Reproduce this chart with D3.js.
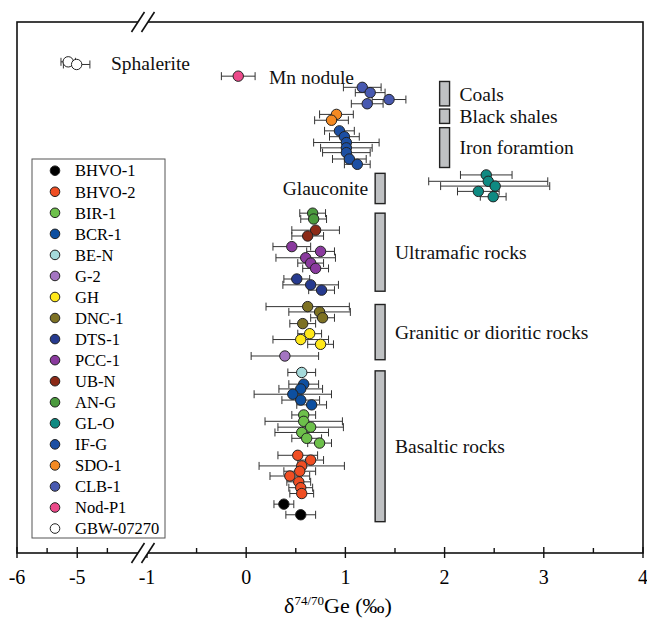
<!DOCTYPE html>
<html>
<head>
<meta charset="utf-8">
<script src="https://cdn.jsdelivr.net/npm/d3@7"></script>
<style>
  body { margin: 0; background: #fff; }
  svg text { font-family: "Liberation Serif", "Times New Roman", Times, serif; }
  .err { stroke: #333; stroke-width: 1; fill: none; }
  .dot { stroke: #222; stroke-width: 1; }
  .range-bar { fill: #bfc1c3; stroke: #222; stroke-width: 1.4; }
  .note { font-size: 19.5px; fill: #111; }
</style>
</head>
<body>
<script>
'use strict';

// samples, legend order
var sampleNames = ['BHVO-1', 'BHVO-2', 'BIR-1', 'BCR-1', 'BE-N', 'G-2', 'GH',
    'DNC-1', 'DTS-1', 'PCC-1', 'UB-N', 'AN-G', 'GL-O', 'IF-G', 'SDO-1',
    'CLB-1', 'Nod-P1', 'GBW-07270'];
var sampleColors = ['#000000', '#f04e23', '#6dc04b', '#0d4fa0', '#a5dadb',
    '#a475c2', '#ffe81a', '#7d7123', '#263a8f', '#8a3a9e', '#8c2a17',
    '#4b9b3e', '#0f8a82', '#1c4fa3', '#f48a23', '#4859b0', '#ec4a8a', '#ffffff'];

// [delta74/70Ge, error, vertical position]
var bhvo1 = [[0.38, 0.10, 9.2], [0.55, 0.15, 7.2]];
var bhvo2 = [[0.52, 0.20, 18.4], [0.65, 0.13, 17.5], [0.56, 0.43, 16.4],
    [0.54, 0.16, 15.4], [0.44, 0.20, 14.5], [0.53, 0.12, 13.4],
    [0.55, 0.12, 12.3], [0.56, 0.12, 11.2]];
var bir1 = [[0.58, 0.12, 26.0], [0.58, 0.39, 24.8], [0.65, 0.33, 23.7],
    [0.56, 0.27, 22.7], [0.61, 0.15, 21.6], [0.74, 0.12, 20.7]];
var bcr1 = [[0.58, 0.15, 31.8], [0.55, 0.22, 30.9], [0.47, 0.39, 29.9],
    [0.55, 0.19, 28.8], [0.66, 0.15, 27.9]];
var beN = [[0.56, 0.14, 34.0]];
var g2 = [[0.39, 0.34, 37.1]];
var gh = [[0.64, 0.12, 41.3], [0.55, 0.28, 40.2], [0.75, 0.13, 39.3]];
var dnc1 = [[0.62, 0.42, 46.4], [0.74, 0.31, 45.4], [0.77, 0.12, 44.3],
    [0.57, 0.13, 43.2]];
var dts1 = [[0.51, 0.13, 51.6], [0.65, 0.28, 50.5], [0.76, 0.13, 49.5]];
var pcc1 = [[0.46, 0.19, 57.7], [0.75, 0.14, 56.8], [0.60, 0.30, 55.6],
    [0.65, 0.13, 54.6], [0.70, 0.13, 53.6]];
var ubN = [[0.70, 0.24, 60.8], [0.62, 0.16, 59.7]];
var anG = [[0.67, 0.13, 64.0], [0.68, 0.13, 62.9]];
var glO = [[2.42, 0.26, 71.2], [2.44, 0.60, 70.0], [2.51, 0.55, 69.1],
    [2.34, 0.21, 68.1], [2.49, 0.13, 67.1]];
var ifG = [[0.94, 0.15, 79.5], [0.99, 0.15, 78.4], [1.01, 0.33, 77.3],
    [1.01, 0.26, 76.3], [1.01, 0.24, 75.4], [1.04, 0.17, 74.2],
    [1.12, 0.13, 73.2]];
var sdo1 = [[0.91, 0.17, 82.6], [0.86, 0.17, 81.5]];
var clb1 = [[1.17, 0.19, 87.7], [1.25, 0.15, 86.7], [1.44, 0.17, 85.4],
    [1.22, 0.16, 84.6]];
var nodP1 = [[-0.08, 0.17, 89.8]];
var gbw07270 = [[-5.15, 0.12, 92.5], [-5.01, 0.22, 92.0]];

// rock type ranges: name, x centre, [bottom, top] position
var rangeNames = ['Coals', 'Black shales', 'Iron foramtion', 'Glauconite',
    'Ultramafic rocks', 'Granitic or dioritic rocks', 'Basaltic rocks'];
var rangeX = [2.0, 2.0, 2.0, 1.35, 1.35, 1.35, 1.35];
var rangeSpans = [[84.2, 88.8], [80.9, 83.6], [72.6, 80.1], [65.8, 71.5],
    [49.3, 64.0], [36.4, 46.8], [5.9, 34.3]];

// x axis ticks
var majorTicks = [-6, -5, -1, 0, 1, 2, 3, 4];
var minorTicks = [-5.5, -4.5, -0.5, 0.5, 1.5, 2.5, 3.5];


var WIDTH = 647,
    HEIGHT = 619,
    LEFT = 17,
    RIGHT = 643,
    TOP = 22,
    BOTTOM = 553;

var samples = [bhvo1, bhvo2, bir1, bcr1, beN, g2, gh, dnc1, dts1, pcc1, ubN,
    anG, glO, ifG, sdo1, clb1, nodP1, gbw07270].map(function (pts, i) {
  return {name: sampleNames[i], color: sampleColors[i], points: pts};
});

var svg = d3.select('body').append('svg')
    .attr('width', WIDTH)
    .attr('height', HEIGHT)
    .attr('font-family', '"Liberation Serif", "Times New Roman", serif');

// broken axis: -6..-3.95 on a compressed scale, -1..4 on the main one
var x = d3.scaleLinear()
    .domain([-6, -3.95, -1.03, 4])
    .range([LEFT, 140.5, 144, RIGHT]);
var y = d3.scaleLinear()
    .domain([0, 100])
    .range([BOTTOM, TOP]);

// frame
svg.append('rect')
    .attr('x', LEFT)
    .attr('y', TOP)
    .attr('width', RIGHT - LEFT)
    .attr('height', BOTTOM - TOP)
    .attr('fill', 'none')
    .attr('stroke', '#111')
    .attr('stroke-width', 1.6);

// ticks
var tickG = svg.append('g');
tickG.selectAll('line.major')
    .data(majorTicks)
    .enter().append('line')
    .attr('x1', function (d) { return x(d); })
    .attr('x2', function (d) { return x(d); })
    .attr('y1', BOTTOM - 6)
    .attr('y2', BOTTOM + 5)
    .attr('stroke', '#111')
    .attr('stroke-width', 1.4);
tickG.selectAll('line.minor')
    .data(minorTicks)
    .enter().append('line')
    .attr('x1', function (d) { return x(d); })
    .attr('x2', function (d) { return x(d); })
    .attr('y1', BOTTOM - 5)
    .attr('y2', BOTTOM)
    .attr('stroke', '#111')
    .attr('stroke-width', 1.4);
tickG.selectAll('text')
    .data(majorTicks)
    .enter().append('text')
    .attr('x', function (d) { return x(d); })
    .attr('y', BOTTOM + 31)
    .attr('text-anchor', 'middle')
    .attr('font-size', 20)
    .text(function (d) { return d; });

// axis title
var title = svg.append('text')
    .attr('x', 338)
    .attr('y', 613)
    .attr('text-anchor', 'middle')
    .attr('font-size', 22);
title.append('tspan').text('\u03b4');
title.append('tspan').attr('dy', -8).attr('font-size', 13).text('74/70');
title.append('tspan').attr('dy', 8).text('Ge (\u2030)');

// break marks on top and bottom
var breakX = x(-1) - 4;
[TOP, BOTTOM].forEach(function (by) {
  svg.append('polygon')
      .attr('points', [
        [breakX - 11, by + 9], [breakX + 1.5, by - 9],
        [breakX + 11, by - 9], [breakX - 1.5, by + 9]
      ].map(function (p) { return p.join(','); }).join(' '))
      .attr('fill', '#fff');
  [-5, 5].forEach(function (off) {
    svg.append('line')
        .attr('x1', breakX + off - 6.5)
        .attr('y1', by + 10)
        .attr('x2', breakX + off + 6.5)
        .attr('y2', by - 10)
        .attr('stroke', '#111')
        .attr('stroke-width', 1.6);
  });
});

// rock type range bars
var ranges = rangeNames.map(function (n, i) {
  return {name: n, x: rangeX[i], span: rangeSpans[i]};
});
svg.append('g').selectAll('rect')
    .data(ranges)
    .enter().append('rect')
    .attr('class', 'range-bar')
    .attr('x', function (d) { return x(d.x - 0.05); })
    .attr('width', function (d) { return x(d.x + 0.05) - x(d.x - 0.05); })
    .attr('y', function (d) { return y(d.span[1]); })
    .attr('height', function (d) { return y(d.span[0]) - y(d.span[1]); });
svg.append('g').selectAll('text')
    .data(ranges)
    .enter().append('text')
    .attr('class', 'note')
    .attr('x', function (d) {
      return d.name === 'Glauconite' ? x(d.x - 0.12) : x(d.x + 0.15);
    })
    .attr('y', function (d) { return y((d.span[0] + d.span[1]) / 2); })
    .attr('dy', '0.35em')
    .attr('text-anchor', function (d) {
      return d.name === 'Glauconite' ? 'end' : 'start';
    })
    .text(function (d) { return d.name; });

// sample labels
svg.append('text').attr('class', 'note')
    .attr('x', x(-4.44)).attr('y', y(92.3)).attr('dy', '0.35em')
    .text('Sphalerite');
svg.append('text').attr('class', 'note')
    .attr('x', x(0.23)).attr('y', y(89.6)).attr('dy', '0.35em')
    .text('Mn nodule');

// error bars, then dots
var points = [];
samples.forEach(function (s) {
  s.points.forEach(function (p) {
    points.push({v: p[0], e: p[1], pos: p[2], color: s.color});
  });
});

var errG = svg.append('g');
points.forEach(function (p) {
  var cy = y(p.pos),
      x0 = x(p.v - p.e),
      x1 = x(p.v + p.e);
  errG.append('line').attr('class', 'err')
      .attr('x1', x0).attr('x2', x1).attr('y1', cy).attr('y2', cy);
  [x0, x1].forEach(function (cx) {
    errG.append('line').attr('class', 'err')
        .attr('x1', cx).attr('x2', cx).attr('y1', cy - 4).attr('y2', cy + 4);
  });
});

svg.append('g').selectAll('circle')
    .data(points)
    .enter().append('circle')
    .attr('class', 'dot')
    .attr('cx', function (d) { return x(d.v); })
    .attr('cy', function (d) { return y(d.pos); })
    .attr('r', 5.2)
    .attr('fill', function (d) { return d.color; });

// legend
var legend = svg.append('g');
legend.append('rect')
    .attr('x', 32)
    .attr('y', 159)
    .attr('width', 133)
    .attr('height', 379)
    .attr('fill', '#fff')
    .attr('stroke', '#555')
    .attr('stroke-width', 1);
var item = legend.selectAll('g.item')
    .data(samples)
    .enter().append('g')
    .attr('transform', function (d, i) {
      return 'translate(55,' + (170.7 + i * 21.05) + ')';
    });
item.append('circle')
    .attr('r', 4.8)
    .attr('fill', function (d) { return d.color; })
    .attr('stroke', '#222')
    .attr('stroke-width', 1);
item.append('text')
    .attr('x', 20)
    .attr('dy', '0.35em')
    .attr('font-size', 16.5)
    .text(function (d) { return d.name; });
</script>
</body>
</html>
